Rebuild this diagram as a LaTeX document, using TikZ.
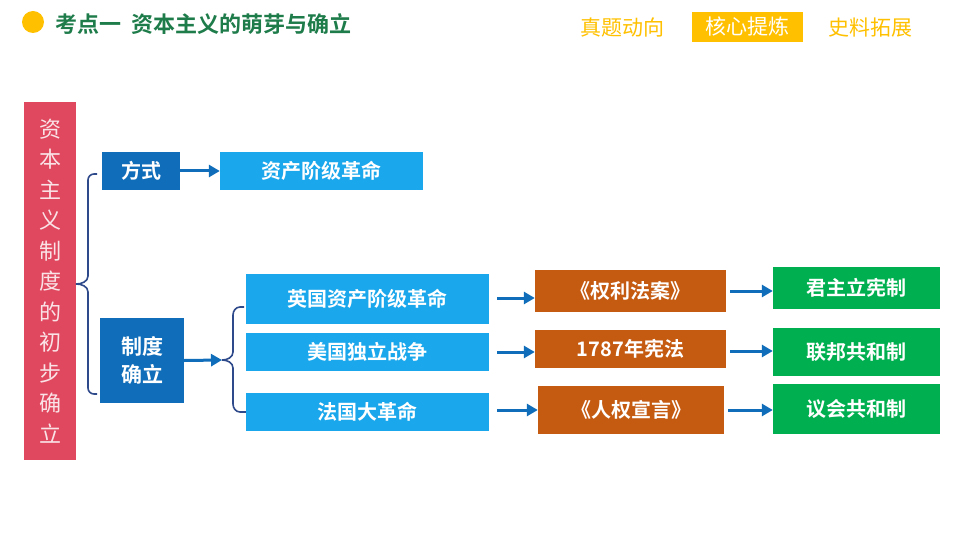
\documentclass[tikz,border=0pt]{standalone}
\usepackage{fontspec}
\usetikzlibrary{arrows.meta}
\setmainfont{Noto Sans CJK SC}[BoldFont={Noto Sans CJK SC Bold}]
\newfontfamily\cjkb{Noto Sans CJK SC Bold}
\definecolor{cred}{HTML}{E0485F}
\definecolor{cdark}{HTML}{0F6DB9}
\definecolor{clight}{HTML}{1AA7EC}
\definecolor{corange}{HTML}{C55A11}
\definecolor{cgreen}{HTML}{00B050}
\definecolor{ctitle}{HTML}{1E7B4A}
\definecolor{cyel}{HTML}{FFC000}
\definecolor{cline}{HTML}{2F4A8A}
\begin{document}
\begin{tikzpicture}[x=1pt,y=-1pt,
  bx/.style={inner sep=0pt,text=white,font=\cjkb\fontsize{20}{24}\selectfont,align=center},
  arr/.style={draw=cdark,line width=3pt,-{Triangle[length=11pt,width=12pt]}},
  br/.style={draw=cline,line width=1.6pt}]
\useasboundingbox (0,0) rectangle (960,540);
% header
\fill[cyel] (33,22) circle (11);
\node[anchor=west,text=ctitle,font=\cjkb\fontsize{22}{24}\selectfont] (title) at (52,24) {考点一\ \ 资本主义的萌芽与确立};
\node[text=cyel,font=\fontsize{21}{24}\selectfont] (t1) at (622,28) {真题动向};
\node[fill=cyel,minimum width=111,minimum height=30,inner sep=0,text=white,font=\fontsize{21}{24}\selectfont] (t2) at (747,27) {核心提炼};
\node[text=cyel,font=\fontsize{21}{24}\selectfont] (t3) at (870,28) {史料拓展};
% left
\node[bx,fill=cred,minimum width=52,minimum height=358,text=white!85!cred,font=\fontsize{22}{30.5}\selectfont] (root) at (50,281) {资\\本\\主\\义\\制\\度\\的\\初\\步\\确\\立};
\node[bx,fill=cdark,minimum width=78,minimum height=38] (fs) at (141,171) {方式};
\node[bx,fill=clight,minimum width=203,minimum height=38] (zc) at (321.5,171) {资产阶级革命};
\node[bx,fill=cdark,minimum width=84,minimum height=85,font=\cjkb\fontsize{21}{28}\selectfont] (zd) at (142,360.5) {制度\\确立};
\node[bx,fill=clight,minimum width=243,minimum height=50] (r1) at (367.5,299) {英国资产阶级革命};
\node[bx,fill=clight,minimum width=243,minimum height=38] (r2) at (367.5,352) {美国独立战争};
\node[bx,fill=clight,minimum width=243,minimum height=38] (r3) at (367.5,412) {法国大革命};
\node[bx,fill=corange,minimum width=191,minimum height=42] (o1) at (630.5,291) {《权利法案》};
\node[bx,fill=corange,minimum width=191,minimum height=38] (o2) at (630.5,349) {1787年宪法};
\node[bx,fill=corange,minimum width=186,minimum height=48] (o3) at (631,410) {《人权宣言》};
\node[bx,fill=cgreen,minimum width=167,minimum height=42] (g1) at (856.5,288) {君主立宪制};
\node[bx,fill=cgreen,minimum width=167,minimum height=48] (g2) at (856.5,352) {联邦共和制};
\node[bx,fill=cgreen,minimum width=167,minimum height=50] (g3) at (856.5,409) {议会共和制};
% braces
\coordinate (b1) at (76,284);
\draw[br] (97,174) -- (94,174) to[out=180,in=90] (88,180) -- (88,276) to[out=270,in=0] (b1);
\draw[br] (b1) to[out=0,in=90] (88,292) -- (88,388) to[out=270,in=180] (94,394) -- (97,394);
\coordinate (b2) at (222,360);
\draw[arr] (zd.east) -- (b2);
\draw[br] (244,307) -- (240,307) to[out=180,in=90] (233,315) -- (233,352) to[out=270,in=0] (b2);
\draw[br] (b2) to[out=0,in=90] (233,368) -- (233,404) to[out=270,in=180] (240,412) -- (r3.west);
\draw[arr] (fs) -- (zc);
\draw[arr] (497,298) -- (o1.west|-0,298);
\draw[arr] (497,352) -- (o2.west|-0,352);
\draw[arr] (497,410) -- (o3.west|-0,410);
\draw[arr] (730,291) -- (g1.west|-0,291);
\draw[arr] (730,351) -- (g2.west|-0,351);
\draw[arr] (728,410) -- (g3.west|-0,410);
\end{tikzpicture}
\end{document}
